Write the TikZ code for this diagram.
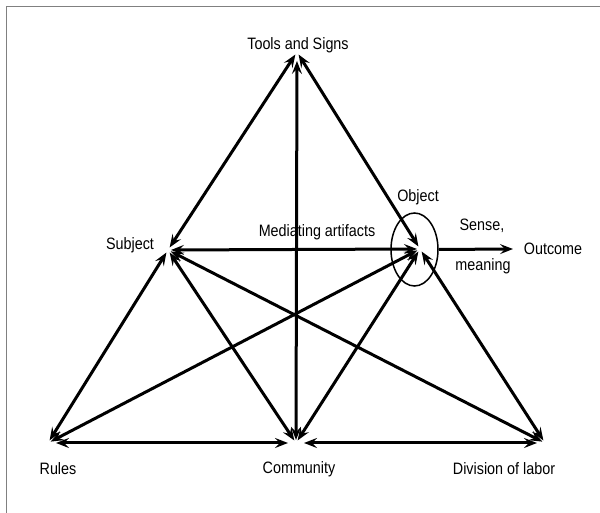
\documentclass[tikz,border=0pt]{standalone}
\usepackage{fontspec}
\setmainfont{Liberation Sans}[FakeStretch=0.87]
\usetikzlibrary{arrows.meta,shapes.geometric}

\begin{document}
\begin{tikzpicture}[x=1pt,y=1pt,
    >={Stealth[length=13pt,width=10pt,inset=5pt]},
    link/.style={line width=3pt,<->,shorten <=3pt,shorten >=3pt},
    flat/.style={link,shorten <=8pt,shorten >=8pt},
    lbl/.style={font=\fontsize{16.5}{18}\selectfont,inner sep=0pt}]
  \useasboundingbox (0,0) rectangle (600,513);
  \draw[gray,line width=1pt] (6,0) -- (6,506) -- (600,506);

  % corners of the triangles
  \coordinate (tools) at (297,461);
  \coordinate (subj)  at (168,263);
  \coordinate (obj)   at (420,264);
  \coordinate (rules) at (48,70);
  \coordinate (comm)  at (296,70);
  \coordinate (div)   at (545,70);

  \node[lbl] (toolslbl) at (298,468) {Tools and Signs};
  \node[lbl] (subjlbl)  at (130,268) {Subject};
  \node[lbl] (objlbl)   at (418,316) {Object};
  \node[lbl] (medlbl)   at (317,281) {Mediating artifacts};
  \node[lbl] (sense)    at (482,287) {Sense,};
  \node[lbl] (meaning)  at (483,247) {meaning};
  \node[lbl] (outcome)  at (553,264) {Outcome};
  \node[lbl] (ruleslbl) at (58,44)   {Rules};
  \node[lbl] (commlbl)  at (299,44)  {Community};
  \node[lbl] (divlbl)   at (504,44)  {Division of labor};

  \node[draw,line width=1.5pt,ellipse,minimum width=47pt,minimum height=73pt,inner sep=0pt] (objring) at (414.5,263.5) {};

  \path (tools) edge[link] (subj)
        (tools) edge[link] (obj)
        (tools) edge[link,shorten <=9pt] (comm)
        (subj)  edge[link] (obj)
        (subj)  edge[link] (rules)
        (subj)  edge[link] (comm)
        (subj)  edge[link] (div)
        (obj)   edge[link] (rules)
        (obj)   edge[link] (comm)
        (obj)   edge[link] (div)
        (rules) edge[flat] (comm)
        (comm)  edge[flat] (div);

  \draw[line width=3pt,->] (objring.east) -- (513,264);
\end{tikzpicture}
\end{document}
